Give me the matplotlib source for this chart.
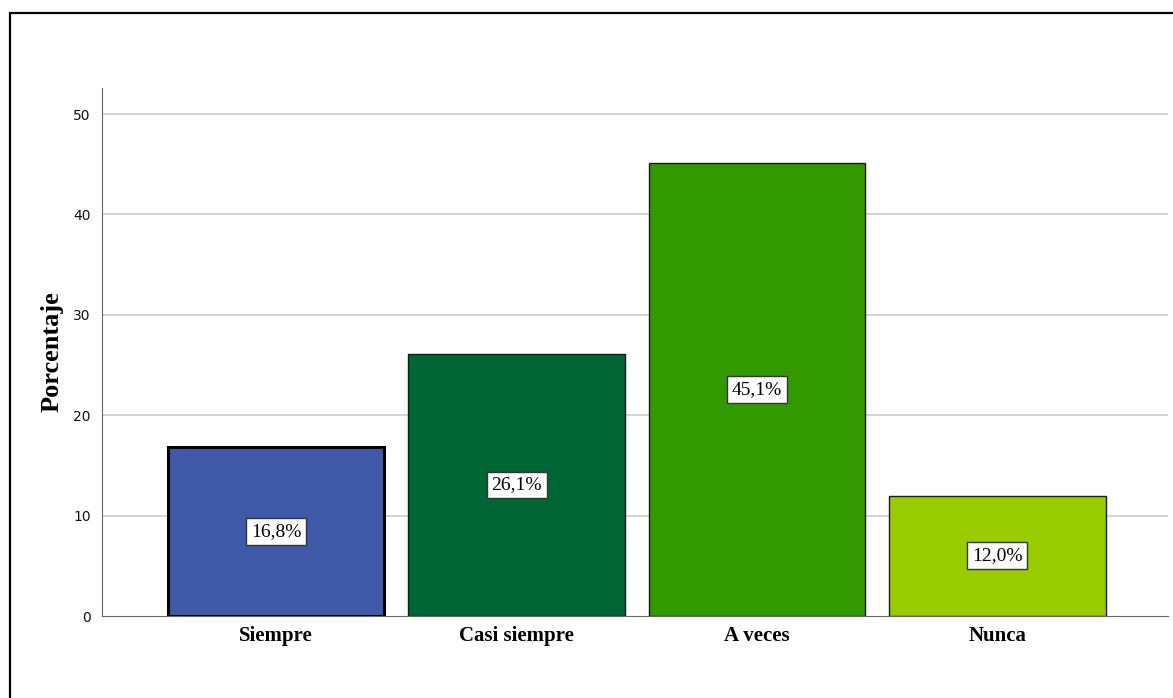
import matplotlib
matplotlib.use("Agg")
import matplotlib.pyplot as plt
from matplotlib.patches import Rectangle

categories = ["Siempre", "Casi siempre", "A veces", "Nunca"]
values = [16.8, 26.1, 45.1, 12.0]
value_labels = ["16,8%", "26,1%", "45,1%", "12,0%"]
colors = ["#3F59A8", "#006633", "#339900", "#99CC00"]
yticks = [0, 10, 20, 30, 40, 50]

fig = plt.figure(figsize=(11.73, 6.98), dpi=100)
ax = fig.add_axes([102/1173, 1-616/698, (1168-102)/1173, (616-88)/698])

x = list(range(len(categories)))
bars = ax.bar(x, values, width=0.9, color=colors, edgecolor="#1a1a1a", linewidth=1.0, zorder=3)
bars[0].set_linewidth(2.2)
bars[0].set_edgecolor("black")

for xi, v, lab in zip(x, values, value_labels):
    ax.text(xi, v/2, lab, ha="center", va="center", family="Liberation Serif", fontsize=14,
            zorder=5, bbox=dict(boxstyle="square,pad=0.25", fc="white", ec="#333333", lw=1.0))

ax.set_xlim(-0.725, 3.71)
ax.set_ylim(0, 52.6)
ax.set_yticks(yticks)
ax.set_yticklabels([str(t) for t in yticks], family="DejaVu Sans", fontsize=10, color="#111111")
ax.set_xticks(x)
ax.set_xticklabels(categories, family="Liberation Serif", fontweight="bold", fontsize=15)
ax.tick_params(axis="both", length=0)
ax.tick_params(axis="y", pad=8)
ax.tick_params(axis="x", pad=7)
for yv in yticks[1:]:
    ax.axhline(yv, color="#cccccc", linewidth=1.2, zorder=1)
ax.spines["top"].set_visible(False)
ax.spines["right"].set_visible(False)
ax.spines["left"].set_color("#666666")
ax.spines["bottom"].set_color("#666666")
ax.set_ylabel("Porcentaje", family="Liberation Serif", fontweight="bold", fontsize=19, labelpad=7)

fig.patches.append(Rectangle((10/1173, -0.1), 1.2, (698-13)/698 + 0.1, transform=fig.transFigure,
                             fill=False, edgecolor="black", linewidth=1.6, clip_on=False))

fig.savefig("out.png", dpi=100)
